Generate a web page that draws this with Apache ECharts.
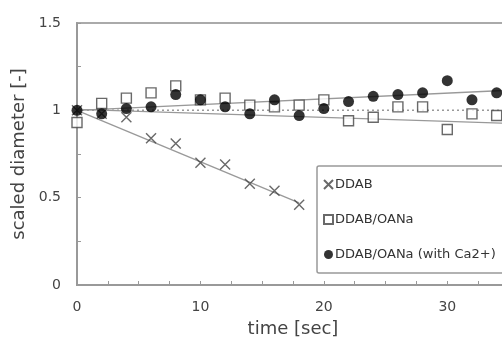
<!DOCTYPE html>
<html>
<head>
<meta charset="utf-8">
<script src="https://cdn.jsdelivr.net/npm/echarts@6/dist/echarts.min.js"></script>
<style>
  html, body { margin: 0; padding: 0; background: #fff; overflow: hidden; }
  #chart { width: 620px; height: 338px; }
</style>
</head>
<body>
<div id="chart"></div>
<script>
// time points (sec)
const timeDDAB = [0, 2, 4, 6, 8, 10, 12, 14, 16, 18]
const timeAll = [0, 2, 4, 6, 8, 10, 12, 14, 16, 18, 20, 22, 24, 26, 28, 30, 32, 34]

// scaled diameter values
const ddab = [1.0, 0.98, 0.96, 0.84, 0.81, 0.70, 0.69, 0.58, 0.54, 0.46]
const ddabOana = [0.93, 1.04, 1.07, 1.10, 1.14, 1.06, 1.07, 1.03, 1.02, 1.03, 1.06, 0.94, 0.96, 1.02, 1.02, 0.89, 0.98, 0.97]
const ddabOanaCa = [1.0, 0.98, 1.01, 1.02, 1.09, 1.06, 1.02, 0.98, 1.06, 0.97, 1.01, 1.05, 1.08, 1.09, 1.10, 1.17, 1.06, 1.10]

// fitted trend lines [x, y] end points
const fitDDAB = [[0, 1.0], [18, 0.47]]
const fitCa = [[0, 1.0], [35, 1.115]]
const fitOana = [[0, 1.005], [35, 0.925]]
const refLine = [[0, 1.0], [35, 1.0]]

const names = ['DDAB', 'DDAB/OANa', 'DDAB/OANa (with Ca2+)']

const pair = (xs, ys) => xs.map((x, i) => [x, ys[i]])

// the original figure is cropped on the right, so the canvas is wider than the window
const chart = echarts.init(document.getElementById('chart'))
const font = 'DejaVu Sans, sans-serif'
const crossPath = 'path://M0,0L10,10M10,0L0,10'

const trend = (data, dashed) => ({
  type: 'line',
  data,
  symbol: 'none',
  silent: true,
  lineStyle: { color: '#999', width: dashed ? 1.5 : 1.3, type: dashed ? [2, 3] : 'solid' },
  z: 1,
})

chart.setOption({
  animation: false,
  textStyle: { fontFamily: font },
  grid: {
    left: 77, right: 111, top: 23, bottom: 53,
    outerBoundsMode: 'none', containLabel: false,
    show: true, borderColor: '#aaa', borderWidth: 2,
  },
  xAxis: {
    type: 'value', min: 0, max: 35, interval: 10,
    name: 'time [sec]', nameLocation: 'middle', nameGap: 35,
    nameTextStyle: { fontSize: 18, color: '#444', fontFamily: font },
    axisLine: { lineStyle: { color: '#999', width: 2 } },
    axisTick: { inside: true, length: 4, lineStyle: { color: '#999' } },
    minorTick: { show: true, splitNumber: 4, length: 4, lineStyle: { color: '#999' } },
    axisLabel: { fontSize: 14, color: '#444', margin: 15, showMaxLabel: false },
    splitLine: { show: false },
  },
  yAxis: {
    type: 'value', min: 0, max: 1.5, interval: 0.5,
    name: 'scaled diameter [-]', nameLocation: 'middle', nameGap: 37, nameRotate: 90,
    nameTextStyle: { fontSize: 18, color: '#444', fontFamily: font },
    axisLine: { show: true, lineStyle: { color: '#999', width: 2 } },
    axisTick: { show: true, inside: true, length: 4, lineStyle: { color: '#999' } },
    minorTick: { show: true, splitNumber: 2, length: 4, lineStyle: { color: '#999' } },
    axisLabel: { fontSize: 14, color: '#444', margin: 16 },
    splitLine: { show: false },
  },
  legend: {
    data: names,
    orient: 'vertical',
    left: 317, top: 166,
    itemWidth: 9, itemHeight: 9, itemGap: 22,
    padding: [12, 20, 12, 6],
    borderColor: '#999', borderWidth: 1.5, borderRadius: 2,
    backgroundColor: '#fff',
    textStyle: { fontSize: 13, color: '#333', fontFamily: font, padding: [0, 0, 0, -3] },
  },
  series: [
    trend(refLine, true),
    trend(fitDDAB, false),
    trend(fitCa, false),
    trend(fitOana, false),
    {
      name: names[0], type: 'scatter', data: pair(timeDDAB, ddab),
      symbol: crossPath, symbolSize: 10,
      itemStyle: { color: 'transparent', borderColor: '#444', borderWidth: 1.4 },
      z: 3,
    },
    {
      name: names[2], type: 'scatter', data: pair(timeAll, ddabOanaCa),
      symbol: 'circle', symbolSize: 11,
      itemStyle: { color: '#000' },
      z: 4,
    },
    {
      name: names[1], type: 'scatter', data: pair(timeAll, ddabOana),
      symbol: 'rect', symbolSize: 10,
      itemStyle: { color: '#fff', borderColor: '#444', borderWidth: 1.4 },
      z: 3,
    },
  ],
})
</script>
</body>
</html>
